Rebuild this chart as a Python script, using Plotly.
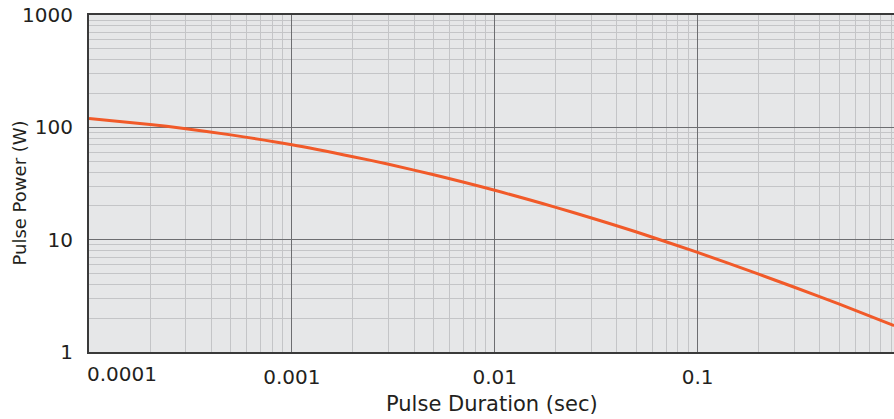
import plotly.graph_objects as go

# Data (pulse duration in seconds, pulse power in W)
duration = [0.0001, 0.0002, 0.0003, 0.0005, 0.001, 0.002, 0.003, 0.005, 0.01,
            0.02, 0.03, 0.05, 0.1, 0.2, 0.3, 0.5, 0.93]
power = [120, 106, 97.3, 85.7, 70, 54.8, 46.9, 37.8, 27.5,
         19.4, 15.6, 11.7, 7.7, 4.93, 3.77, 2.67, 1.72]

x_ticks = [0.001, 0.01, 0.1]
x_tick_text = ["0.001", "0.01", "0.1"]
x_first_label = "0.0001"
y_ticks = [1, 10, 100, 1000]
y_tick_text = ["1", "10", "100", "1000"]
x_title = "Pulse Duration (sec)"
y_title = "Pulse Power (W)"

FONT = "DejaVu Sans"
TXT = "#231f20"

fig = go.Figure()
fig.add_trace(go.Scatter(
    x=duration, y=power, mode="lines",
    line=dict(color="#f15a29", width=3, shape="spline", smoothing=0.8),
    hoverinfo="x+y", showlegend=False,
))

fig.update_layout(
    width=894, height=419,
    margin=dict(l=89, r=0, t=15, b=67),
    paper_bgcolor="white",
    plot_bgcolor="#e6e7e8",
    font=dict(family=FONT, color=TXT, size=16),
    xaxis=dict(
        type="log", range=[-4, -0.032],
        tickvals=x_ticks, ticktext=x_tick_text,
        showgrid=True, gridcolor="#6d6e71", gridwidth=1.3,
        showline=True, linecolor="#3a3a3a", linewidth=2, mirror=True,
        ticks="", ticklen=0, ticklabelstandoff=6,
        tickfont=dict(size=20, family=FONT, color=TXT),
        minor=dict(dtick="D1", showgrid=True, gridcolor="#c4c5c7", gridwidth=1, ticks=""),
        zeroline=False, automargin=False,
    ),
    yaxis=dict(
        type="log", range=[0, 3],
        tickvals=y_ticks, ticktext=y_tick_text,
        showgrid=True, gridcolor="#6d6e71", gridwidth=1.3,
        showline=True, linecolor="#3a3a3a", linewidth=2,
        ticks="", ticklen=0, ticklabelstandoff=10,
        tickfont=dict(size=20, family=FONT, color=TXT),
        minor=dict(dtick="D1", showgrid=True, gridcolor="#c4c5c7", gridwidth=1, ticks=""),
        zeroline=False, automargin=False,
    ),
)

fig.add_annotation(
    x=-4, y=0, xref="x", yref="paper",
    text=x_first_label, showarrow=False,
    xanchor="left", yanchor="top", xshift=-4, yshift=-8,
    font=dict(size=20, family=FONT, color=TXT),
)
fig.add_annotation(
    x=0.5, y=0, xref="paper", yref="paper",
    text=x_title, showarrow=False,
    xanchor="center", yanchor="middle", yshift=-52,
    font=dict(size=21, family=FONT, color=TXT),
)
fig.add_annotation(
    x=0, y=0.5, xref="paper", yref="paper",
    text=y_title, showarrow=False, textangle=-90,
    xanchor="center", yanchor="middle", xshift=-70, yshift=-10,
    font=dict(size=18, family=FONT, color=TXT),
)

fig.write_html("out.html")
